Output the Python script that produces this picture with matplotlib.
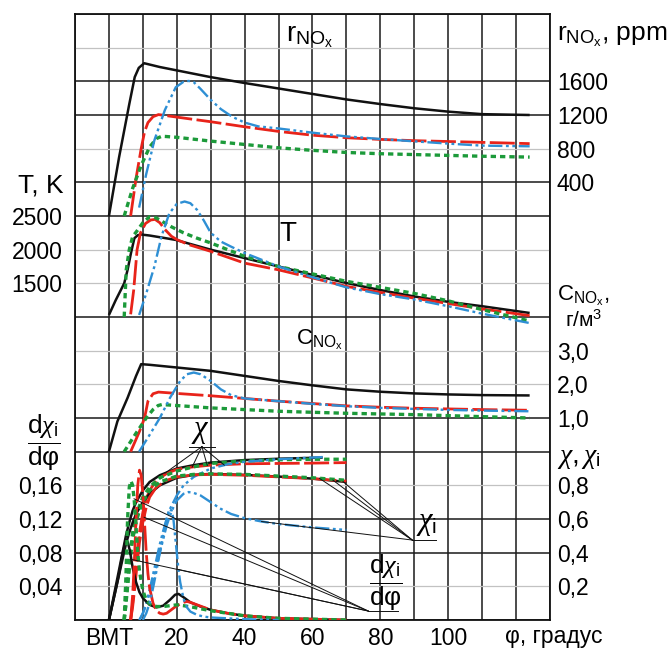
import numpy as np
import matplotlib
matplotlib.use('Agg')
import matplotlib.pyplot as plt

plt.rcParams['font.family'] = ['Liberation Sans', 'DejaVu Sans']
plt.rcParams['mathtext.fontset'] = 'custom'
plt.rcParams['mathtext.rm'] = 'Liberation Sans'
plt.rcParams['mathtext.it'] = 'Liberation Serif:italic'

# ---- data (phi in degrees after TDC) ----
# NOx volume fraction, ppm
phi_r_k = [0, 3, 6, 7.6, 8.8, 10.4, 15, 20, 30, 40, 50, 60, 70, 80, 90, 100, 110, 124]
r_k = [0, 700, 1330, 1650, 1760, 1815, 1770, 1730, 1650, 1580, 1515, 1450, 1385, 1330, 1280, 1240, 1210, 1200]
phi_r_r = [6.4, 8, 9.5, 10.5, 11.5, 13, 14.6, 20, 30, 40, 50, 60, 70, 80, 90, 100, 110, 124]
r_r = [0, 450, 800, 1000, 1110, 1180, 1205, 1175, 1120, 1060, 1005, 960, 930, 910, 895, 885, 875, 860]
phi_r_g = [4.5, 7, 9.5, 12, 14, 15.6, 20, 30, 40, 50, 60, 70, 80, 90, 100, 110, 124]
r_g = [0, 330, 600, 820, 920, 948, 935, 890, 850, 810, 780, 755, 740, 730, 720, 710, 700]
phi_r_b = [8.9, 11, 13.4, 16.5, 19.7, 22, 23.5, 25, 27, 30, 33, 36.3, 40, 44, 50, 60, 70, 80, 90, 100, 110, 124]
r_b = [100, 500, 900, 1260, 1530, 1595, 1605, 1590, 1510, 1380, 1270, 1180, 1110, 1065, 1040, 990, 946, 915, 887, 860, 836, 828]

# temperature, K
phi_T_k = [0, 2, 4, 4.5, 5.5, 6.5, 7.5, 8.5, 9.5, 12, 15, 19.7, 25, 30, 40, 50, 60, 70, 80, 90, 100, 110, 124]
T_k = [1030, 1250, 1450, 1500, 1700, 1950, 2170, 2215, 2225, 2210, 2185, 2145, 2070, 2000, 1875, 1750, 1625, 1505, 1400, 1305, 1225, 1160, 1060]
phi_T_r = [6.4, 7.3, 8.3, 9.3, 10.8, 12.3, 13.6, 15, 16.5, 18.4, 20, 23.5, 30, 40, 50, 60, 70, 80, 90, 100, 110, 124]
T_r = [1040, 1400, 2000, 2250, 2390, 2440, 2450, 2400, 2300, 2200, 2150, 2075, 1975, 1800, 1700, 1580, 1455, 1365, 1280, 1200, 1120, 1020]
phi_T_g = [4.5, 5.1, 6, 7, 8.3, 10, 12, 14, 16, 18.4, 22, 26, 30, 40, 50, 60, 70, 80, 90, 100, 110, 124]
T_g = [1000, 1700, 2000, 2195, 2280, 2400, 2490, 2470, 2410, 2340, 2250, 2170, 2100, 1900, 1750, 1640, 1530, 1440, 1350, 1240, 1110, 940]
phi_T_b = [8.9, 11, 13.4, 15.5, 17.8, 20, 22.3, 24, 26, 28, 30, 33, 36, 40, 50, 60, 70, 80, 90, 100, 110, 124]
T_b = [1030, 1350, 1750, 2200, 2540, 2680, 2715, 2690, 2590, 2430, 2250, 2120, 2045, 1950, 1750, 1590, 1440, 1340, 1260, 1160, 1050, 910]

# NOx mass concentration, g/m3
phi_C_k = [0, 2.5, 5.5, 8, 9.5, 12, 20, 30, 40, 50, 60, 70, 80, 90, 100, 110, 124]
C_k = [0, 0.9, 1.6, 2.25, 2.6, 2.58, 2.5, 2.4, 2.25, 2.1, 1.97, 1.85, 1.78, 1.73, 1.7, 1.68, 1.67]
phi_C_r = [6.4, 9, 10.5, 11.5, 13, 14.6, 20, 30, 40, 50, 60, 70, 80, 90, 100, 110, 124]
C_r = [0, 0.6, 1.0, 1.5, 1.72, 1.77, 1.73, 1.66, 1.58, 1.5, 1.43, 1.36, 1.32, 1.29, 1.27, 1.25, 1.23]
phi_C_g = [4.5, 8, 11, 13, 14.5, 15.6, 20, 30, 40, 50, 60, 70, 80, 90, 100, 110, 124]
C_g = [0, 0.55, 1.0, 1.25, 1.37, 1.4, 1.37, 1.3, 1.25, 1.2, 1.17, 1.14, 1.12, 1.1, 1.07, 1.04, 1.0]
phi_C_b = [8.9, 12, 15, 18, 21, 23, 25, 27, 30, 33, 36, 40, 50, 60, 70, 80, 90, 100, 110, 124]
C_b = [0, 0.5, 1.0, 1.6, 2.1, 2.3, 2.35, 2.3, 2.1, 1.85, 1.68, 1.58, 1.5, 1.42, 1.35, 1.3, 1.27, 1.24, 1.22, 1.2]

# burnt fraction chi
phi_x_k = [0, 1, 2, 3, 4, 5, 6, 7, 8, 10, 12, 15, 20, 25, 30, 40, 50, 63]
x_k = [0, 0.1, 0.2, 0.3, 0.4, 0.5, 0.58, 0.65, 0.7, 0.77, 0.82, 0.86, 0.9, 0.92, 0.935, 0.95, 0.958, 0.965]
phi_x_r = [6.4, 7, 7.5, 8, 8.5, 9, 10, 11, 12, 14, 17, 20, 25, 30, 40, 50, 60, 70]
x_r = [0, 0.1, 0.2, 0.32, 0.43, 0.52, 0.64, 0.72, 0.77, 0.83, 0.87, 0.895, 0.91, 0.92, 0.928, 0.93, 0.932, 0.935]
phi_x_g = [4.5, 5, 5.5, 6, 6.5, 7, 8, 9, 10, 12, 15, 20, 25, 30, 40, 50, 60, 70]
x_g = [0, 0.1, 0.22, 0.34, 0.44, 0.52, 0.62, 0.68, 0.73, 0.79, 0.845, 0.885, 0.91, 0.93, 0.945, 0.952, 0.955, 0.955]
phi_x_b = [9, 10, 11, 12, 13, 14, 15, 16, 17, 18, 20, 22, 25, 30, 35, 40, 50, 63]
x_b = [0, 0.04, 0.1, 0.18, 0.27, 0.36, 0.45, 0.53, 0.6, 0.66, 0.74, 0.8, 0.85, 0.9, 0.925, 0.94, 0.955, 0.968]

# chi_i
phi_xi_k = [0, 1, 2, 3, 4, 5, 6, 7, 8, 10, 12, 15, 20, 25, 30, 40, 50, 60, 70]
xi_k = [0, 0.09, 0.18, 0.27, 0.36, 0.45, 0.52, 0.58, 0.63, 0.7, 0.75, 0.8, 0.845, 0.862, 0.868, 0.862, 0.852, 0.84, 0.82]
phi_xi_r = [6.4, 7, 7.5, 8, 8.5, 9, 10, 11, 12, 14, 17, 20, 25, 30, 40, 50, 60, 70]
xi_r = [0, 0.08, 0.17, 0.27, 0.37, 0.46, 0.58, 0.67, 0.73, 0.79, 0.83, 0.85, 0.862, 0.865, 0.86, 0.85, 0.84, 0.825]
phi_xi_g = [4.5, 5, 5.5, 6, 6.5, 7, 8, 9, 10, 12, 15, 20, 25, 30, 40, 50, 60, 70]
xi_g = [0, 0.09, 0.2, 0.3, 0.4, 0.48, 0.58, 0.65, 0.7, 0.77, 0.82, 0.855, 0.865, 0.868, 0.865, 0.855, 0.845, 0.83]
phi_xi_b = [9, 10, 11, 12, 13, 14, 15, 16, 17, 18, 19, 20, 22, 23.5, 25, 27, 30, 33, 36, 40, 45, 50, 60, 70]
xi_b = [0, 0.04, 0.09, 0.16, 0.24, 0.32, 0.4, 0.48, 0.56, 0.62, 0.67, 0.71, 0.75, 0.76, 0.755, 0.74, 0.7, 0.66, 0.63, 0.605, 0.585, 0.57, 0.55, 0.535]

# d chi_i / d phi
phi_d_k = [0, 1, 2, 3, 4, 4.8, 5.5, 6.2, 7, 8, 9, 10, 12, 14, 16, 18, 19.5, 20.5, 22, 24, 27, 30, 35, 40, 50, 60, 70]
d_k = [0, 0.018, 0.036, 0.055, 0.078, 0.092, 0.093, 0.082, 0.062, 0.045, 0.033, 0.026, 0.018, 0.015, 0.017, 0.024, 0.03, 0.031, 0.027, 0.021, 0.016, 0.012, 0.008, 0.005, 0.002, 0.001, 0.0]
phi_d_r = [6.4, 7, 7.5, 8, 8.5, 9, 9.5, 10, 10.5, 11, 11.5, 12, 13, 14, 15, 16, 17, 18, 20, 22, 23, 24, 26, 28, 30, 35, 40, 50, 60, 70]
d_r = [0, 0.03, 0.07, 0.12, 0.16, 0.178, 0.172, 0.15, 0.115, 0.08, 0.055, 0.038, 0.02, 0.011, 0.008, 0.007, 0.008, 0.011, 0.017, 0.021, 0.022, 0.021, 0.018, 0.015, 0.012, 0.008, 0.005, 0.002, 0.001, 0.0]
phi_d_g = [4.5, 5, 5.5, 6, 6.5, 7, 7.5, 8, 8.5, 9, 10, 11, 12, 14, 16, 18, 20, 22, 25, 30, 35, 40, 50, 60, 70]
d_g = [0, 0.05, 0.12, 0.158, 0.165, 0.16, 0.14, 0.11, 0.08, 0.058, 0.035, 0.024, 0.019, 0.016, 0.016, 0.017, 0.018, 0.017, 0.015, 0.011, 0.008, 0.005, 0.002, 0.001, 0.0]
phi_d_b = [10, 11, 12, 13, 14, 15, 16, 17, 17.8, 18.5, 19, 19.5, 20, 20.5, 21, 22, 23, 24, 26, 28, 30, 35, 40, 50]
d_b = [0, 0.008, 0.02, 0.038, 0.058, 0.08, 0.1, 0.12, 0.132, 0.13, 0.12, 0.1, 0.08, 0.06, 0.045, 0.025, 0.015, 0.01, 0.006, 0.004, 0.003, 0.002, 0.001, 0.0]

# axis ticks / labels
x_ticks = [0, 20, 40, 60, 80, 100]
x_labels = ['ВМТ', '20', '40', '60', '80', '100']
r_ticks = [400, 800, 1200, 1600]
T_ticks = [1500, 2000, 2500]
C_ticks = [1.0, 2.0, 3.0]
C_labels = ['1,0', '2,0', '3,0']
x_ticks_chi = [0.2, 0.4, 0.6, 0.8]
chi_labels = ['0,2', '0,4', '0,6', '0,8']
d_ticks = [0.04, 0.08, 0.12, 0.16]
d_labels = ['0,04', '0,08', '0,12', '0,16']

# ---- styles ----
K = dict(color='#111111', lw=1.8, ls='-')
R = dict(color='#e8231a', lw=2.0, ls=(0, (9, 1.6)))
G = dict(color='#1c9a3a', lw=2.4, ls=(0, (1.6, 1.2)))
B = dict(color='#2e8fd4', lw=1.7, ls=(0, (6, 1.5, 1.2, 1.5, 1.2, 1.5)))
FS = 16.5
FRAC = r'$\dfrac{\mathrm{d}\chi_\mathrm{i}}{\mathrm{d}\mathrm{φ}}$'

W, H = 671, 651
fig = plt.figure(figsize=(W / 100, H / 100), dpi=100)
ax = fig.add_axes([75 / W, 31 / H, 475 / W, 606 / H])
ax.set_xlim(-10, 130)
ax.set_ylim(0, 18)
ax.set_xticks(np.arange(-10, 131, 10))
ax.set_xticklabels([x_labels[x_ticks.index(v)] if v in x_ticks else '' for v in range(-10, 131, 10)], fontsize=FS)
ax.set_yticks([0, 2, 3, 5, 6, 9, 12, 13, 15, 16, 18])
ax.set_yticks([1, 4, 7, 8, 10, 11, 14, 17], minor=True)
ax.grid(which='major', color='#1a1a1a', lw=1.1)
ax.grid(which='minor', axis='y', color='#c2c2c2', lw=0.9)
ax.tick_params(which='both', length=0, labelleft=False)
ax.tick_params(axis='x', pad=5)
for s in ax.spines.values():
    s.set_linewidth(1.3)
    s.set_color('#111111')


def twin(lo, hi, ticks, labels, side):
    t = ax.twinx()
    t.set_ylim(lo, hi)
    t.set_yticks(ticks)
    t.set_yticklabels(labels, fontsize=FS)
    for s in t.spines.values():
        s.set_visible(False)
    if side == 'left':
        t.yaxis.set_ticks_position('left')
        t.tick_params(axis='y', length=0, pad=9)
    else:
        t.tick_params(axis='y', length=0, pad=5)
    return t


ax_r = twin(-4800, 2400, r_ticks, [str(v) for v in r_ticks], 'right')
ax_T = twin(-3500, 5500, T_ticks, [str(v) for v in T_ticks], 'left')
ax_C = twin(-5, 13, C_ticks, C_labels, 'right')
ax_x = twin(0, 3.6, x_ticks_chi, chi_labels, 'right')
ax_d = twin(0, 0.72, d_ticks, d_labels, 'left')

for a, sets in [
    (ax_r, [(phi_r_k, r_k), (phi_r_r, r_r), (phi_r_g, r_g), (phi_r_b, r_b)]),
    (ax_T, [(phi_T_k, T_k), (phi_T_r, T_r), (phi_T_g, T_g), (phi_T_b, T_b)]),
    (ax_C, [(phi_C_k, C_k), (phi_C_r, C_r), (phi_C_g, C_g), (phi_C_b, C_b)]),
    (ax_x, [(phi_x_k, x_k), (phi_x_r, x_r), (phi_x_g, x_g), (phi_x_b, x_b)]),
    (ax_x, [(phi_xi_k, xi_k), (phi_xi_r, xi_r), (phi_xi_g, xi_g), (phi_xi_b, xi_b)]),
    (ax_d, [(phi_d_k, d_k), (phi_d_r, d_r), (phi_d_g, d_g), (phi_d_b, d_b)]),
]:
    for (p, v), st in zip(sets, [K, R, G, B]):
        a.plot(p, v, solid_capstyle='butt', dash_capstyle='butt', **st)

# leader lines
lk = dict(color='#111111', lw=0.7)
cx, cy = 27.4, 1.03
for p, v, at in [(phi_x_k, x_k, 16.5), (phi_x_g, x_g, 24.5), (phi_x_r, x_r, 29), (phi_x_b, x_b, 34)]:
    ax_x.plot([cx, at], [cy, np.interp(at, p, v)], **lk)
ax_x.plot([23.6, 31.3], [cy, cy], **lk)
ax_x.text(26.8, 1.035, r'$\chi$', fontsize=22, ha='center', va='bottom')

cx, cy = 89.4, 0.475
for p, v, at in [(phi_xi_k, xi_k, 69), (phi_xi_r, xi_r, 66), (phi_xi_g, xi_g, 62), (phi_xi_b, xi_b, 45)]:
    ax_x.plot([cx, at], [cy, np.interp(at, p, v)], **lk)
ax_x.plot([89.4, 96.5], [cy, cy], **lk)
ax_x.text(93.5, 0.485, r'$\chi_\mathrm{i}$', fontsize=22, ha='center', va='bottom')

cx, cy = 76.4, 0.0107
for p, v, at in [(phi_d_g, d_g, 7.4), (phi_d_r, d_r, 10.4), (phi_d_k, d_k, 6.6), (phi_d_b, d_b, 20.5)]:
    ax_d.plot([cx, at], [cy, np.interp(at, p, v)], **lk)
ax_d.plot([76.4, 85.3], [cy, cy], **lk)
ax_d.text(81.5, 0.044, FRAC, fontsize=19, ha='center', va='center')


def ftext(x, y, s, **kw):
    fig.text(x / W, 1 - y / H, s, **kw)


ftext(310, 37, r'r$_{\mathrm{NO}_\mathrm{x}}$', fontsize=20, ha='center', va='center')
ftext(557, 37, r'r$_{\mathrm{NO}_\mathrm{x}}$, ppm', fontsize=19, ha='left', va='center')
ftext(63, 186, 'T, K', fontsize=19, ha='right', va='center')
ftext(288, 234, 'T', fontsize=20, ha='center', va='center')
ftext(320, 340, r'C$_{\mathrm{NO}_\mathrm{x}}$', fontsize=16, ha='center', va='center')
ftext(557, 296, r'C$_{\mathrm{NO}_\mathrm{x}}$,', fontsize=16, ha='left', va='center')
ftext(565, 320, 'г/м$^3$', fontsize=15, ha='left', va='center')
ftext(44, 443, FRAC, fontsize=19, ha='center', va='center')
ftext(557, 458, r'$\chi,\chi_\mathrm{i}$', fontsize=20, ha='left', va='center')
ftext(505, 636, 'φ, градус', fontsize=FS, ha='left', va='center')

fig.savefig('out.png', dpi=100, facecolor='white')
